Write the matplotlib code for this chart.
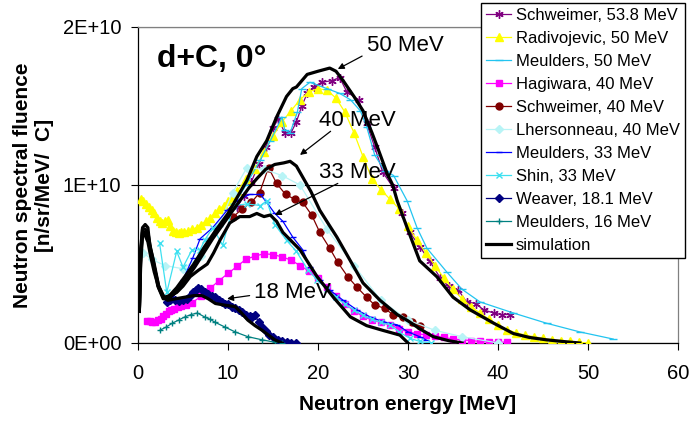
import matplotlib
matplotlib.use("Agg")
import matplotlib.pyplot as plt
from matplotlib.ticker import FuncFormatter, FixedLocator

plt.rcParams['font.family'] = ['Liberation Sans', 'DejaVu Sans']

E10 = 1e10  # y data below are in units of 1E+10

# ---- experimental data ----
schw54_x = [11.0, 11.8, 12.6, 13.4, 14.2, 15.0, 15.6, 16.3, 17.0, 17.6, 18.2, 18.8, 19.5, 20.4,
            21.5, 22.4, 23.2, 24.5, 25.4, 26.3, 27.2, 28.4, 29.3, 30.2, 31.3, 32.4, 33.6, 34.5,
            35.6, 36.5, 37.5, 38.4, 39.5, 40.4, 41.3]
schw54_y = [0.86, 0.93, 1.02, 1.13, 1.24, 1.36, 1.42, 1.33, 1.33, 1.40, 1.50, 1.58, 1.62, 1.65,
            1.66, 1.68, 1.59, 1.54, 1.39, 1.24, 1.08, 0.98, 0.82, 0.70, 0.61, 0.52, 0.41, 0.36,
            0.335, 0.26, 0.25, 0.21, 0.19, 0.18, 0.18]

radi_x = [0.3, 0.6, 0.9, 1.2, 1.5, 1.8, 2.1, 2.4, 2.7, 3.0, 3.3, 3.6, 3.9, 4.2, 4.5, 4.8, 5.1, 5.5,
          6.0, 6.5, 7.0, 7.5, 8.0, 8.5, 9.0, 9.5, 10.0, 10.5, 11.0, 12.0, 13.0, 14.0, 15.0, 16.0,
          17.0, 18.0, 19.0, 20.0, 21.0, 22.0, 23.0, 24.0, 25.0, 26.0, 27.0, 28.0, 29.0, 30.0,
          31.0, 32.0, 33.0, 34.0, 35.0, 36.0, 37.0, 38.0, 39.0, 40.0, 41.0, 42.0, 43.0, 44.0,
          45.0, 46.0, 47.0, 48.0, 49.0, 50.0]
radi_y = [0.91, 0.90, 0.88, 0.86, 0.84, 0.82, 0.79, 0.77, 0.76, 0.77, 0.78, 0.74, 0.71, 0.70,
          0.695, 0.70, 0.70, 0.71, 0.72, 0.73, 0.75, 0.77, 0.79, 0.82, 0.845, 0.87, 0.90, 0.925,
          0.96, 1.04, 1.10, 1.21, 1.31, 1.40, 1.47, 1.54, 1.59, 1.61, 1.60, 1.55, 1.46, 1.33,
          1.18, 1.04, 0.97, 0.91, 0.85, 0.74, 0.65, 0.57, 0.49, 0.41, 0.34, 0.28, 0.23, 0.19,
          0.15, 0.115, 0.085, 0.065, 0.05, 0.04, 0.03, 0.02, 0.015, 0.01, 0.005, 0.0]

meu50_x = [9.0, 10.5, 12.0, 13.6, 14.7, 16.0, 16.3, 16.9, 17.7, 18.2, 19.1, 21.0, 22.4, 23.6,
           24.7, 25.4, 26.3, 27.4, 28.4, 29.9, 31.0, 32.1, 34.3, 36.0, 38.0, 41.7, 45.4, 49.1, 52.8]
meu50_y = [0.74, 0.86, 1.00, 1.16, 1.28, 1.43, 1.35, 1.33, 1.46, 1.61, 1.65, 1.61, 1.58, 1.54,
           1.47, 1.37, 1.19, 1.09, 1.06, 0.90, 0.73, 0.60, 0.45, 0.34, 0.26, 0.19, 0.125, 0.07, 0.025]

hagi_x = [1.0, 1.3, 1.6, 1.9, 2.2, 2.5, 2.8, 3.1, 3.4, 3.7, 4.0, 4.4, 4.8, 5.3, 6.0, 7.0, 8.0,
          9.0, 10.0, 11.0, 12.0, 13.0, 14.0, 15.0, 16.0, 17.0, 18.0, 19.0, 20.0, 21.0, 22.0,
          23.0, 24.0, 25.0, 26.0, 27.0, 28.0, 29.0, 30.0, 31.0, 32.0, 33.0, 34.0, 35.0, 36.0,
          37.0, 38.0, 39.0, 40.0, 41.0]
hagi_y = [0.14, 0.14, 0.135, 0.135, 0.145, 0.155, 0.17, 0.185, 0.20, 0.21, 0.215, 0.225, 0.235,
          0.24, 0.255, 0.295, 0.345, 0.395, 0.44, 0.485, 0.53, 0.55, 0.565, 0.56, 0.545, 0.525,
          0.49, 0.455, 0.41, 0.355, 0.295, 0.25, 0.20, 0.17, 0.145, 0.13, 0.115, 0.09, 0.07,
          0.06, 0.05, 0.045, 0.035, 0.025, 0.02, 0.015, 0.01, 0.008, 0.006, 0.005]

schw40_x = [10.6, 11.6, 12.6, 13.5, 14.5, 15.4, 16.4, 17.4, 18.3, 19.3, 20.2, 21.3, 22.2, 23.3,
            24.3, 25.4, 26.3, 27.4, 28.3, 29.4, 30.4, 31.3]
schw40_y = [0.80, 0.85, 0.89, 0.95, 1.11, 1.01, 0.94, 0.91, 0.89, 0.81, 0.70, 0.60, 0.51, 0.42,
            0.355, 0.29, 0.24, 0.22, 0.18, 0.165, 0.13, 0.11]

lher_x = [0.6, 1.5, 3.0, 5.0, 7.0, 9.0, 10.5, 12.1, 14.0, 16.0, 18.0, 21.0, 24.0, 27.0, 30.0,
          33.0, 36.0, 40.0]
lher_y = [0.57, 0.53, 0.49, 0.47, 0.55, 0.75, 0.95, 1.11, 1.10, 1.06, 1.00, 0.72, 0.49, 0.27,
          0.145, 0.08, 0.04, 0.0]

meu33_x = [3.5, 3.9, 5.0, 6.1, 6.9, 8.3, 9.9, 11.0, 12.4, 13.6, 14.3, 15.2, 16.1, 17.2, 18.3,
           19.1, 20.2, 21.3, 22.8, 24.3, 25.8, 27.2, 28.8, 30.0, 31.3, 32.0]
meu33_y = [0.26, 0.29, 0.40, 0.54, 0.66, 0.73, 0.84, 0.90, 0.94, 0.94, 0.89, 0.82, 0.77, 0.67,
           0.59, 0.48, 0.40, 0.335, 0.27, 0.21, 0.165, 0.135, 0.115, 0.07, 0.04, 0.02]

shin_x = [2.4, 3.2, 4.3, 5.0, 6.0, 6.9, 7.4, 8.3, 9.4, 10.6, 12.1, 13.6, 14.3, 15.2, 16.5, 17.6,
          18.9, 19.9, 21.0, 22.0, 23.0, 24.0, 25.0, 26.0, 27.0, 28.0, 29.0, 30.2, 31.3, 32.5]
shin_y = [0.63, 0.32, 0.58, 0.48, 0.59, 0.59, 0.65, 0.73, 0.62, 0.87, 0.88, 0.87, 0.90, 0.75,
          0.65, 0.58, 0.46, 0.40, 0.34, 0.29, 0.245, 0.21, 0.175, 0.15, 0.13, 0.115, 0.07,
          0.03, 0.01, 0.0]

weav_x = [3.2, 3.6, 4.1, 4.5, 5.0, 5.4, 5.8, 6.1, 6.4, 6.7, 7.0, 7.4, 7.8, 8.2, 8.6, 9.0, 9.3,
          9.7, 10.0, 10.4, 10.8, 11.2, 11.6, 12.0, 12.4, 12.7, 13.0, 13.4, 13.8, 14.2, 14.6,
          15.0, 15.5, 16.0, 16.5, 17.0, 17.6]
weav_y = [0.26, 0.27, 0.27, 0.265, 0.27, 0.28, 0.30, 0.32, 0.335, 0.35, 0.34, 0.32, 0.31, 0.30,
          0.29, 0.27, 0.26, 0.25, 0.245, 0.23, 0.22, 0.21, 0.195, 0.18, 0.17, 0.165, 0.18, 0.13,
          0.10, 0.075, 0.05, 0.035, 0.02, 0.012, 0.006, 0.003, 0.0]

meu16_x = [2.4, 3.1, 3.8, 4.5, 5.2, 5.9, 6.6, 7.4, 8.0, 8.6, 9.7, 10.8, 12.2, 13.8, 15.2, 16.0]
meu16_y = [0.08, 0.10, 0.125, 0.145, 0.165, 0.18, 0.19, 0.165, 0.15, 0.13, 0.10, 0.07, 0.04,
           0.02, 0.005, 0.0]

# ---- simulations ----
sim50_x = [0.15, 0.3, 0.5, 0.8, 1.1, 1.3, 1.7, 2.2, 2.8, 3.5, 4.3, 5.2, 6.2, 7.4, 8.6, 10.0,
           11.0, 12.1, 13.2, 14.3, 15.4, 16.5, 17.2, 17.6, 18.8, 20.0, 21.3, 22.0, 22.8, 24.0,
           25.0, 26.0, 26.6, 27.7, 28.3, 28.8, 29.9, 31.3, 33.2, 35.0, 36.9, 39.5, 41.7, 43.5,
           45.4, 47.5, 49.1]
sim50_y = [0.2, 0.55, 0.73, 0.75, 0.73, 0.62, 0.52, 0.36, 0.28, 0.30, 0.35, 0.42, 0.50, 0.61,
           0.71, 0.82, 0.92, 1.03, 1.18, 1.28, 1.43, 1.56, 1.61, 1.62, 1.70, 1.72, 1.74, 1.72,
           1.66, 1.56, 1.47, 1.33, 1.24, 1.07, 1.00, 0.90, 0.73, 0.52, 0.42, 0.29, 0.21, 0.126,
           0.06, 0.035, 0.02, 0.008, 0.0]

sim40_x = [0.15, 0.3, 0.5, 0.8, 1.1, 1.4, 1.8, 2.3, 2.9, 3.6, 4.4, 5.3, 6.3, 7.3, 8.3, 9.3,
           10.3, 11.3, 12.3, 13.2, 14.2, 15.2, 16.2, 16.9, 17.6, 18.4, 19.2, 20.2, 21.2, 22.1,
           23.6, 25.0, 26.9, 28.8, 30.0, 31.3, 32.8, 34.5, 36.0]
sim40_y = [0.2, 0.6, 0.72, 0.72, 0.70, 0.60, 0.50, 0.36, 0.28, 0.29, 0.33, 0.40, 0.48, 0.57,
           0.66, 0.74, 0.82, 0.90, 0.98, 1.04, 1.10, 1.13, 1.14, 1.15, 1.12, 1.04, 0.96, 0.84,
           0.75, 0.67, 0.52, 0.38, 0.27, 0.18, 0.14, 0.09, 0.04, 0.015, 0.0]

sim33_x = [0.15, 0.3, 0.5, 0.8, 1.1, 1.4, 1.8, 2.3, 2.9, 3.6, 4.3, 5.0, 5.8, 6.7, 7.7, 8.4,
           9.1, 10.2, 11.3, 12.4, 13.2, 14.0, 14.7, 15.4, 16.1, 18.0, 19.9, 21.7, 23.6, 25.4,
           27.2, 29.1, 30.0]
sim33_y = [0.2, 0.55, 0.70, 0.70, 0.68, 0.58, 0.48, 0.36, 0.29, 0.30, 0.32, 0.36, 0.42, 0.46,
           0.50, 0.57, 0.65, 0.76, 0.80, 0.80, 0.82, 0.80, 0.81, 0.77, 0.70, 0.59, 0.42, 0.29,
           0.165, 0.11, 0.08, 0.05, 0.0]

sim18_x = [0.15, 0.3, 0.5, 0.8, 1.1, 1.4, 1.8, 2.3, 2.8, 3.3, 4.2, 5.2, 6.2, 7.1, 7.8, 8.6, 9.6,
           10.8, 11.5, 12.2, 13.0, 13.8, 14.5, 15.2, 16.0]
sim18_y = [0.2, 0.5, 0.68, 0.68, 0.64, 0.55, 0.45, 0.35, 0.29, 0.27, 0.28, 0.29, 0.30, 0.30,
           0.28, 0.25, 0.24, 0.23, 0.19, 0.145, 0.11, 0.08, 0.05, 0.02, 0.0]


def scale(v):
    return [a * E10 for a in v]


fig = plt.figure(figsize=(6.89, 4.22), dpi=100)
ax = fig.add_axes([138 / 689, 1 - 343 / 422, 540 / 689, 316 / 422])

series = [
    ('Schweimer, 53.8 MeV', schw54_x, schw54_y, '#800080', (6, 2, 0), 6),
    ('Radivojevic, 50 MeV', radi_x, radi_y, '#FFFF00', '^', 5.5),
    ('Meulders, 50 MeV', meu50_x, meu50_y, '#22C4F0', '_', 6),
    ('Hagiwara, 40 MeV', hagi_x, hagi_y, '#FF00FF', 's', 5),
    ('Schweimer, 40 MeV', schw40_x, schw40_y, '#800000', 'o', 5),
    ('Lhersonneau, 40 MeV', lher_x, lher_y, '#B8F4F6', 'D', 4),
    ('Meulders, 33 MeV', meu33_x, meu33_y, '#0000FF', '_', 5),
    ('Shin, 33 MeV', shin_x, shin_y, '#3EE0F0', 'x', 5),
    ('Weaver, 18.1 MeV', weav_x, weav_y, '#000080', 'D', 4.5),
    ('Meulders, 16 MeV', meu16_x, meu16_y, '#008080', '+', 5),
]

for label, xs, ys, col, mk, ms in series:
    ax.plot(xs, scale(ys), color=col, lw=0.9, marker=mk, ms=ms,
            mfc=col, mec=col, mew=1.0, label=label, zorder=3)

for i, (xs, ys) in enumerate([(sim50_x, sim50_y), (sim40_x, sim40_y),
                               (sim33_x, sim33_y), (sim18_x, sim18_y)]):
    ax.plot(xs, scale(ys), color='black', lw=2.3, zorder=4,
            label='simulation' if i == 0 else None)

ax.set_xlim(0, 60)
ax.set_ylim(0, 2 * E10)
ax.xaxis.set_major_locator(FixedLocator([0, 10, 20, 30, 40, 50, 60]))
ax.yaxis.set_major_locator(FixedLocator([0, E10, 2 * E10]))
ax.yaxis.set_major_formatter(FuncFormatter(lambda v, p: f"{v:.0E}"))
ax.tick_params(axis='both', direction='out', length=5, width=0.8, labelsize=14.5)
ax.tick_params(axis='x', pad=10)
ax.tick_params(axis='y', pad=7)
ax.yaxis.grid(True, color='black', lw=0.8)
ax.set_axisbelow(True)

for s in ['top', 'right']:
    ax.spines[s].set_color('#808080')
for s in ['left', 'bottom']:
    ax.spines[s].set_color('black')
for s in ax.spines.values():
    s.set_linewidth(0.9)

ax.set_xlabel('Neutron energy [MeV]', fontsize=15, fontweight='bold', labelpad=9)
ax.set_ylabel('Neutron spectral fluence\n[n/sr/MeV/  C]', fontsize=15, fontweight='bold',
              linespacing=1.2)
ax.yaxis.set_label_coords(-0.155, 0.5)

ax.text(8.2, 1.80 * E10, 'd+C, 0°', fontsize=23, fontweight='bold', ha='center', va='center')

arrow = dict(arrowstyle='-|>', color='black', lw=0.9, mutation_scale=9, shrinkA=0, shrinkB=0)
labels = [
    ('50 MeV', (29.7, 1.886), (24.9, 1.816), (22.2, 1.734)),
    ('40 MeV', (24.4, 1.41), (21.4, 1.34), (18.0, 1.19)),
    ('33 MeV', (24.4, 1.08), (22.2, 1.01), (15.2, 0.81)),
    ('18 MeV', (17.2, 0.32), (12.4, 0.30), (9.9, 0.28)),
]
for txt, (tx, ty), (ax0, ay0), (hx, hy) in labels:
    ax.text(tx, ty * E10, txt, fontsize=16, ha='center', va='center', zorder=6)
    ax.annotate('', xy=(hx, hy * E10), xytext=(ax0, ay0 * E10), arrowprops=arrow, zorder=6)

leg = fig.legend(loc='upper right', bbox_to_anchor=(685 / 689, 1 - 3 / 422),
                 fontsize=12, frameon=True, fancybox=False, shadow=False,
                 borderaxespad=0, borderpad=0.3, labelspacing=0.48,
                 handlelength=1.5, handletextpad=0.3, numpoints=1)
leg.get_frame().set_edgecolor('black')
leg.get_frame().set_linewidth(1.0)
leg.get_frame().set_alpha(1)
leg.set_zorder(10)

fig.savefig('out.png', dpi=100)
